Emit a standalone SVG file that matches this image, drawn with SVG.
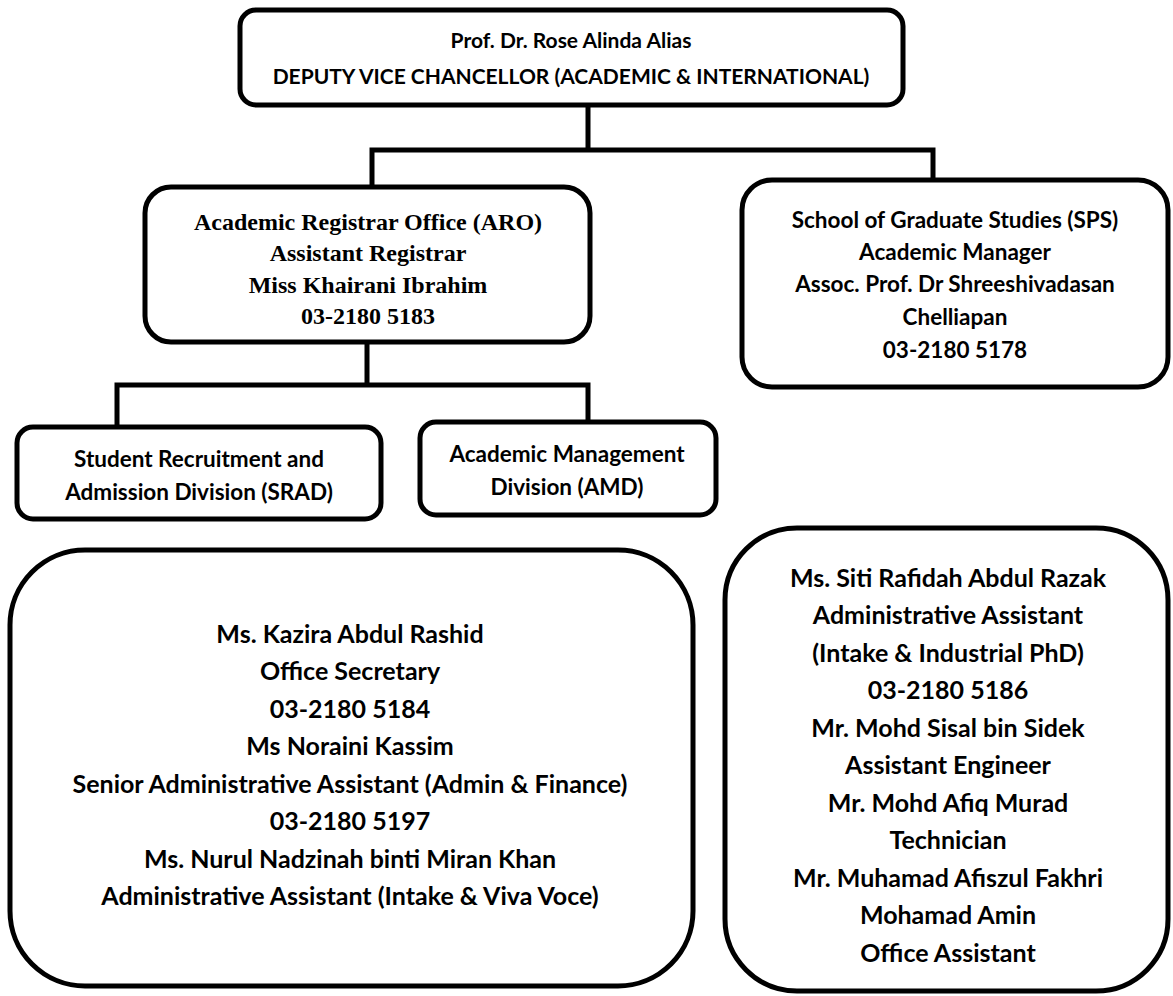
<svg xmlns="http://www.w3.org/2000/svg" width="1173" height="996" viewBox="0 0 1173 996">
<style>
.box{fill:#fff;stroke:#000;stroke-width:5}
.conn{fill:none;stroke:#000;stroke-width:5;stroke-linecap:square}
.t{font-family:Lato,"Open Sans","Liberation Sans",sans-serif;font-weight:bold;text-anchor:middle;fill:#000}
.top{font-size:21px}
.mid{font-size:22.5px}
.div{font-size:22.5px}
.big{font-size:25px}
.serif{font-family:"Liberation Serif","Times New Roman",serif;font-weight:bold;text-anchor:middle;fill:#000;font-size:24px}
</style>
<rect width="1173" height="996" fill="#fff"/>
<g id="connectors">
<path class="conn" d="M588,105 V150 M372,150 H933 M372,150 V187 M933,150 V181"/>
<path class="conn" d="M367,342 V385 M117,385 H588 M117,385 V427 M588,385 V422"/>
</g>
<g id="dvc">
<rect class="box" x="240" y="10" width="663" height="95" rx="16"/>
<text class="t top" x="571" y="48">Prof. Dr. Rose Alinda Alias</text>
<text class="t top" x="571" y="84">DEPUTY VICE CHANCELLOR (ACADEMIC &amp; INTERNATIONAL)</text>
</g>
<g id="aro">
<rect class="box" x="145" y="187" width="445" height="155" rx="26"/>
<text class="serif" x="368" y="230">Academic Registrar Office (ARO)</text>
<text class="serif" x="368" y="261">Assistant Registrar</text>
<text class="serif" x="368" y="293">Miss Khairani Ibrahim</text>
<text class="serif" x="368" y="324">03-2180 5183</text>
</g>
<g id="sps">
<rect class="box" x="742" y="180" width="426" height="207" rx="30"/>
<text class="t mid" x="955" y="228">School of Graduate Studies (SPS)</text>
<text class="t mid" x="955" y="260">Academic Manager</text>
<text class="t mid" x="955" y="292">Assoc. Prof. Dr Shreeshivadasan</text>
<text class="t mid" x="955" y="325">Chelliapan</text>
<text class="t mid" x="955" y="358">03-2180 5178</text>
</g>
<g id="srad">
<rect class="box" x="17" y="427" width="364" height="92" rx="16"/>
<text class="t div" x="199" y="467">Student Recruitment and</text>
<text class="t div" x="199" y="500">Admission Division (SRAD)</text>
</g>
<g id="amd">
<rect class="box" x="420" y="422" width="296" height="93" rx="16"/>
<text class="t div" x="567" y="462">Academic Management</text>
<text class="t div" x="567" y="495">Division (AMD)</text>
</g>
<g id="aro-staff">
<rect class="box" x="10" y="550" width="683" height="436" rx="75"/>
<text class="t big" x="350" y="643">Ms. Kazira Abdul Rashid</text>
<text class="t big" x="350" y="680">Office Secretary</text>
<text class="t big" x="350" y="718">03-2180 5184</text>
<text class="t big" x="350" y="755">Ms Noraini Kassim</text>
<text class="t big" x="350" y="793">Senior Administrative Assistant (Admin &amp; Finance)</text>
<text class="t big" x="350" y="830">03-2180 5197</text>
<text class="t big" x="350" y="868">Ms. Nurul Nadzinah binti Miran Khan</text>
<text class="t big" x="350" y="905">Administrative Assistant (Intake &amp; Viva Voce)</text>
</g>
<g id="sps-staff">
<rect class="box" x="725" y="528" width="443" height="463" rx="72"/>
<text class="t big" x="948" y="587">Ms. Siti Rafidah Abdul Razak</text>
<text class="t big" x="948" y="624">Administrative Assistant</text>
<text class="t big" x="948" y="662">(Intake &amp; Industrial PhD)</text>
<text class="t big" x="948" y="699">03-2180 5186</text>
<text class="t big" x="948" y="737">Mr. Mohd Sisal bin Sidek</text>
<text class="t big" x="948" y="774">Assistant Engineer</text>
<text class="t big" x="948" y="812">Mr. Mohd Afiq Murad</text>
<text class="t big" x="948" y="849">Technician</text>
<text class="t big" x="948" y="887">Mr. Muhamad Afiszul Fakhri</text>
<text class="t big" x="948" y="924">Mohamad Amin</text>
<text class="t big" x="948" y="962">Office Assistant</text>
</g>
</svg>
